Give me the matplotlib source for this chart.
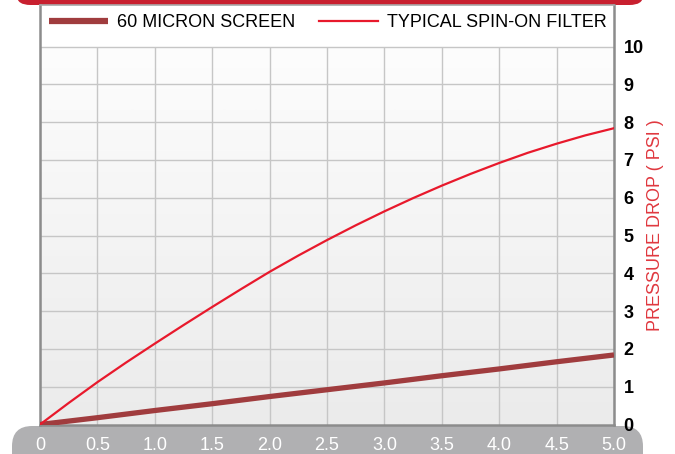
import numpy as np
import matplotlib
matplotlib.use("Agg")
import matplotlib.pyplot as plt
from matplotlib.patches import FancyBboxPatch
from matplotlib.colors import LinearSegmentedColormap

plt.rcParams['font.family'] = ['Liberation Sans', 'DejaVu Sans']

# flow values and pressure drop readings
screen_flow = [0, 0.5, 1.0, 1.5, 2.0, 2.5, 3.0, 3.5, 4.0, 4.5, 5.0]
screen_psi = [0, 0.18, 0.37, 0.55, 0.74, 0.92, 1.10, 1.29, 1.47, 1.66, 1.84]

spinon_flow = [0, 0.25, 0.5, 0.75, 1.0, 1.25, 1.5, 1.75, 2.0, 2.25, 2.5,
               2.75, 3.0, 3.25, 3.5, 3.75, 4.0, 4.25, 4.5, 4.75, 5.0]
spinon_psi = [0, 0.57, 1.12, 1.64, 2.14, 2.63, 3.11, 3.58, 4.04, 4.47, 4.88,
              5.27, 5.64, 5.99, 6.32, 6.63, 6.92, 7.19, 7.43, 7.65, 7.84]

x_ticks = [0, 0.5, 1.0, 1.5, 2.0, 2.5, 3.0, 3.5, 4.0, 4.5, 5.0]
x_labels = ['0', '0.5', '1.0', '1.5', '2.0', '2.5', '3.0', '3.5', '4.0', '4.5', '5.0']
y_ticks = list(range(0, 11))

W, H = 675, 454
fig = plt.figure(figsize=(W / 100, H / 100), dpi=100)

# red bar at the very top
fig.patches.append(FancyBboxPatch((17 / W, 1 - 5 / H), 626 / W, 30 / H,
                                  boxstyle="round,pad=0,rounding_size=0.02",
                                  transform=fig.transFigure, facecolor='#c8202f',
                                  edgecolor='none', zorder=-1))
# grey band behind x labels
fig.patches.append(FancyBboxPatch((12 / W, -20 / H), 631 / W, 48 / H,
                                  boxstyle="round,pad=0,rounding_size=0.03",
                                  transform=fig.transFigure, facecolor='#b0b0b2',
                                  edgecolor='none', zorder=-1, mutation_aspect=W / H))

ax = fig.add_axes([40 / W, 1 - 424.5 / H, 574 / W, 419.5 / H])
ytop = 11.1
ax.set_xlim(0, 5)
ax.set_ylim(0, ytop)

# background gradient
cmap = LinearSegmentedColormap.from_list('bg', ['#ebebeb', '#fdfdfd'])
grad = np.linspace(0, 1, 256).reshape(-1, 1)
ax.imshow(grad, extent=[0, 5, 0, 10], origin='lower', aspect='auto',
          cmap=cmap, zorder=0)
ax.axhspan(10, ytop, color='white', zorder=0.5)

# grid
for y in y_ticks:
    ax.axhline(y, color='#c6c6c6', lw=1, zorder=1)
ax.vlines(x_ticks, 0, 10, color='#c6c6c6', lw=1, zorder=1)

ax.plot(screen_flow, screen_psi, color='#a03c3e', lw=3.8, solid_capstyle='butt',
        label='60 MICRON SCREEN', zorder=3)
ax.plot(spinon_flow, spinon_psi, color='#e8192c', lw=1.6,
        label='TYPICAL SPIN-ON FILTER', zorder=4)

for s in ['left', 'right', 'bottom']:
    ax.spines[s].set_color('#8c8c8c')
    ax.spines[s].set_linewidth(1.8)
ax.spines['top'].set_color('#a8a8a8')
ax.spines['top'].set_linewidth(1.2)

ax.yaxis.tick_right()
ax.set_yticks(y_ticks)
ax.set_yticklabels([str(v) for v in y_ticks], fontsize=13, fontweight='bold')
ax.tick_params(axis='y', length=0, pad=7)
ax.set_xticks(x_ticks)
ax.set_xticklabels(x_labels, fontsize=13, color='white')
ax.tick_params(axis='x', length=0, pad=9)

fig.text(655 / W, 1 - 225 / H, 'PRESSURE DROP ( PSI )', rotation=90,
         color='#e0383f', fontsize=13, ha='center', va='center')

leg = ax.legend(ncol=2, frameon=False, loc='upper left',
                bbox_to_anchor=(0.0, 1.0), fontsize=13, handlelength=3.25,
                handletextpad=0.5, columnspacing=1.33, borderaxespad=0.1)
leg.get_lines()[0].set_linewidth(4.5)

fig.savefig('out.png', dpi=100)
